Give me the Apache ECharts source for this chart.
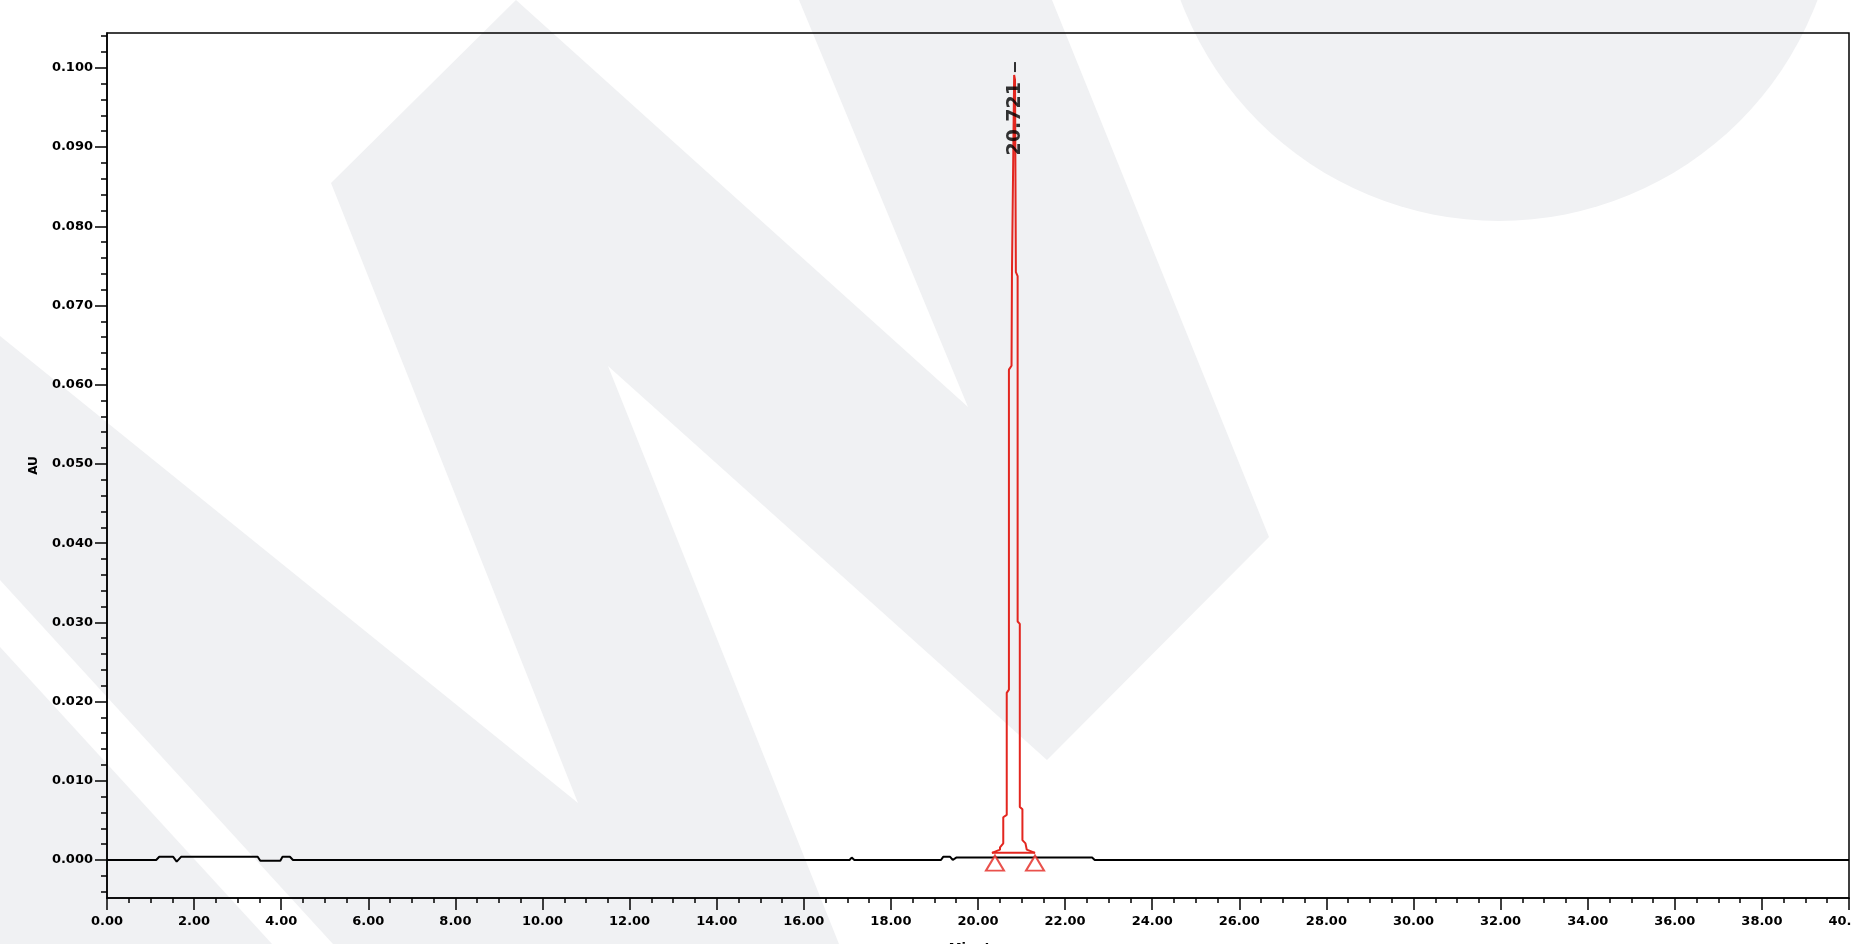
<!DOCTYPE html>
<html><head><meta charset="utf-8">
<script src="https://cdn.jsdelivr.net/npm/echarts@6/dist/echarts.min.js"></script>
<style>html,body{margin:0;padding:0;background:#fff;}#c{width:1851px;height:944px;}</style>
</head><body><div id="c"></div>
<script>
// Black chromatogram trace (minutes, AU)
const baseTime = [0, 1.13, 1.2, 1.52, 1.6, 1.7, 3.46, 3.52, 3.98, 4.03, 4.2, 4.27, 17.05, 17.1, 17.16, 19.15, 19.2, 19.36, 19.42, 19.5, 20.32, 21.31, 22.62, 22.68, 40];
const baseAU   = [0, 0, 0.0004, 0.0004, -0.0002, 0.0004, 0.0004, -0.0001, -0.0001, 0.0004, 0.0004, 0, 0, 0.0003, 0, 0, 0.0004, 0.0004, 0, 0.0003, 0.0003, 0.0003, 0.0003, 0, 0];
// Integrated peak (red)
const peakTime = [20.32, 20.505, 20.505, 20.58, 20.58, 20.66, 20.66, 20.71, 20.71, 20.77, 20.78, 20.83, 20.85, 20.87, 20.91, 20.91, 20.96, 20.96, 21.02, 21.02, 21.09, 21.12, 21.31];
const peakAU   = [0.0009, 0.0013, 0.0016, 0.0021, 0.0054, 0.0057, 0.0211, 0.0215, 0.0619, 0.0624, 0.0742, 0.0991, 0.0985, 0.0742, 0.0737, 0.0301, 0.0298, 0.0067, 0.0064, 0.0025, 0.0021, 0.0013, 0.0009];
// Integration baseline and start/end markers
const integTime = [20.32, 21.31];
const integAU   = [0.0009, 0.0009];
const markTime  = [20.39, 21.31];
const markAU    = [-0.0004, -0.0004];
// Peak retention-time label
const peakLabelTime = 20.85;
const peakLabelAU = 0.0982;
const peakTickAU = 0.1001;
const peakLabel = '20.721';
// Axis ticks
const xTicks = [0, 2, 4, 6, 8, 10, 12, 14, 16, 18, 20, 22, 24, 26, 28, 30, 32, 34, 36, 38, 40];
const yTicks = [0, 0.01, 0.02, 0.03, 0.04, 0.05, 0.06, 0.07, 0.08, 0.09, 0.1];
const yMinorTicks = [];
for (let i = -2; i <= 52; i++) yMinorTicks.push(+(i * 0.002).toFixed(3));

const zip = (a, b) => a.map((v, i) => [v, b[i]]);
const chart = echarts.init(document.getElementById('c'), null, {renderer: 'canvas'});
const WM = '#f0f1f3';
const RED = '#e3261f';
const lbl = {color: '#000', fontFamily: 'DejaVu Sans', fontWeight: 'bold', fontSize: 13};

chart.setOption({
  animation: false,
  backgroundColor: '#fff',
  graphic: [
    {type: 'polygon', z: -100, silent: true, shape: {points: [
      [0, 336], [578, 803], [331, 183], [516, 0], [968, 407], [799, 0], [1052, 0], [1269, 537],
      [1047, 760], [608, 366], [839, 944], [333, 944], [0, 580]
    ]}, style: {fill: WM}},
    {type: 'polygon', z: -100, silent: true, shape: {points: [[0, 647], [0, 944], [272, 944]]}, style: {fill: WM}},
    {type: 'circle', z: -100, silent: true, shape: {cx: 1499, cy: -119, r: 340}, style: {fill: WM}}
  ],
  grid: {left: 107, right: 2, top: 33, bottom: 46, show: true, borderColor: '#000', borderWidth: 1.5, containLabel: false, outerBoundsMode: 'none'},
  xAxis: {
    type: 'value', min: 0, max: 40, interval: 2,
    name: 'Minutes', nameLocation: 'middle', nameGap: 44,
    nameTextStyle: {color: '#000', fontFamily: 'DejaVu Sans', fontWeight: 'bold', fontSize: 13},
    axisLine: {show: true, onZero: false, lineStyle: {color: '#000', width: 1.5}},
    axisTick: {show: true, length: 12, lineStyle: {color: '#000', width: 1.5}, customValues: xTicks},
    minorTick: {show: true, splitNumber: 4, length: 5, lineStyle: {color: '#000', width: 1.5}},
    axisLabel: Object.assign({margin: 17, showMaxLabel: true, showMinLabel: true, customValues: xTicks, formatter: v => v.toFixed(2)}, lbl),
    splitLine: {show: false}
  },
  yAxis: [
    {
      type: 'value', min: -0.0048, max: 0.1044, position: 'left',
      name: 'AU', nameLocation: 'middle', nameGap: 67, nameRotate: 90,
      nameTextStyle: {color: '#000', fontFamily: 'DejaVu Sans', fontWeight: 'bold', fontSize: 12},
      axisLine: {show: true, onZero: false, lineStyle: {color: '#000', width: 1.5}},
      axisTick: {show: true, length: 12, lineStyle: {color: '#000', width: 1.5}, customValues: yTicks},
      axisLabel: Object.assign({margin: 14, customValues: yTicks, formatter: v => v.toFixed(3)}, lbl),
      splitLine: {show: false}
    },
    {
      type: 'value', min: -0.0048, max: 0.1044, position: 'left', offset: 0,
      axisLine: {show: false},
      axisTick: {show: true, length: 6, lineStyle: {color: '#000', width: 1.5}, customValues: yMinorTicks},
      axisLabel: {show: false},
      splitLine: {show: false}
    }
  ],
  series: [
    {type: 'line', data: zip(baseTime, baseAU), showSymbol: false, symbol: 'none', lineStyle: {color: '#000', width: 2}, z: 2},
    {type: 'line', data: zip(integTime, integAU), showSymbol: false, symbol: 'none', lineStyle: {color: RED, width: 2}, z: 3},
    {type: 'line', data: zip(peakTime, peakAU), showSymbol: false, symbol: 'none', lineStyle: {color: RED, width: 2}, z: 4},
    {type: 'scatter', data: zip(markTime, markAU), symbol: 'triangle', symbolSize: [18, 15],
     itemStyle: {color: '#fff', borderColor: RED, borderWidth: 2}, z: 5},
    {type: 'scatter', data: [[peakLabelTime, peakTickAU]], symbol: 'rect', symbolSize: [2, 10], itemStyle: {color: '#000'}, z: 6},
    {type: 'scatter', data: [[peakLabelTime, peakLabelAU]], symbolSize: 0, z: 7,
     label: {show: true, position: 'inside', formatter: () => peakLabel, rotate: 90, align: 'right', verticalAlign: 'middle',
             color: '#000', fontFamily: 'DejaVu Sans', fontWeight: 'bold', fontSize: 19}}
  ]
});
</script></body></html>
